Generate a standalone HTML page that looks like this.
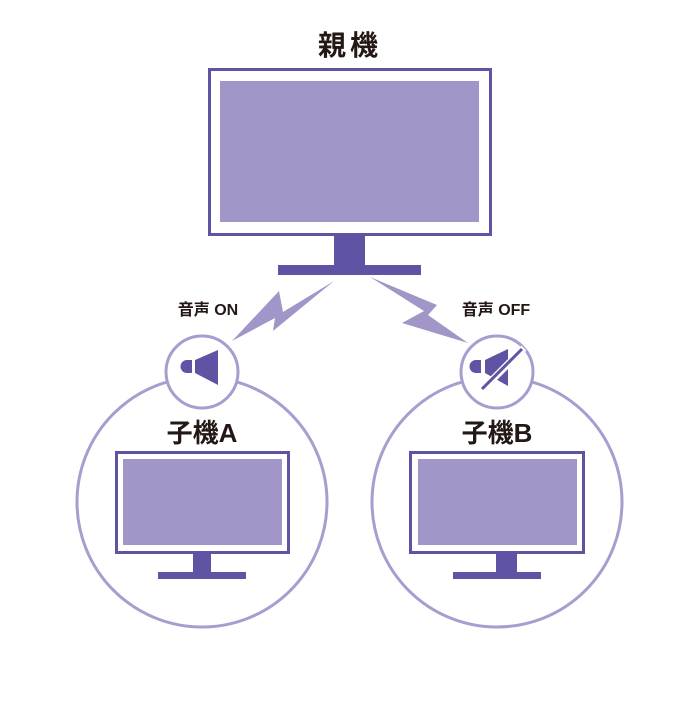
<!DOCTYPE html>
<html><head><meta charset="utf-8"><style>
html,body{margin:0;padding:0;background:#fff;}
svg text{font-family:"Liberation Sans","Noto Sans CJK JP",sans-serif;font-weight:bold;fill:#231815;}
</style></head><body>
<svg width="700" height="700" viewBox="0 0 700 700" xmlns="http://www.w3.org/2000/svg">
<text x="350" y="55" font-size="28" text-anchor="middle" letter-spacing="4">親機</text>
<rect x="209.5" y="69.5" width="281" height="165" fill="#fff" stroke="#5e54a3" stroke-width="3"/>
<rect x="220" y="81" width="259" height="141" fill="#a296c8"/>
<rect x="334" y="235" width="31" height="30" fill="#5e54a3"/>
<rect x="278" y="265" width="143" height="10" fill="#5e54a3"/>
<polygon points="232,341 279,291 283,312 334,281 273,331 275,318" fill="#a296c8"/>
<polygon points="370,277 437,305 428,315 468,343 402,323 424,311" fill="#a296c8"/>
<text x="208" y="315" font-size="16" text-anchor="middle">音声 ON</text>
<text x="496" y="315" font-size="16" text-anchor="middle">音声 OFF</text>
<circle cx="202" cy="502" r="125" fill="#fff" stroke="#a79dcf" stroke-width="3"/>
<circle cx="497" cy="502" r="125" fill="#fff" stroke="#a79dcf" stroke-width="3"/>
<circle cx="202" cy="372" r="36" fill="#fff" stroke="#a79dcf" stroke-width="3"/>
<circle cx="497" cy="372" r="36" fill="#fff" stroke="#a79dcf" stroke-width="3"/>
<path d="M187,360 H192 V373 H187 A6.5,6.5 0 0 1 187,360 Z" fill="#5e54a3"/>
<polygon points="195,360 218,350 218,385 195,373" fill="#5e54a3"/>
<path d="M476,360 H481 V373 H476 A6.5,6.5 0 0 1 476,360 Z" fill="#5e54a3"/>
<polygon points="485,360 508,349 508,386 485,373" fill="#5e54a3"/>
<line x1="481" y1="391" x2="524" y2="348" stroke="#fff" stroke-width="7"/>
<line x1="482" y1="389" x2="522" y2="349" stroke="#5e54a3" stroke-width="3"/>
<text x="202" y="442" font-size="26" text-anchor="middle">子機A</text>
<text x="497" y="442" font-size="26" text-anchor="middle">子機B</text>
<rect x="116.5" y="452.5" width="172" height="100" fill="#fff" stroke="#5e54a3" stroke-width="3"/>
<rect x="123" y="459" width="159" height="86" fill="#a296c8"/>
<rect x="193" y="553" width="18" height="19" fill="#5e54a3"/>
<rect x="158" y="572" width="88" height="7" fill="#5e54a3"/>
<rect x="410.5" y="452.5" width="173" height="100" fill="#fff" stroke="#5e54a3" stroke-width="3"/>
<rect x="418" y="459" width="159" height="86" fill="#a296c8"/>
<rect x="496" y="552" width="21" height="20" fill="#5e54a3"/>
<rect x="453" y="572" width="88" height="7" fill="#5e54a3"/>
</svg>
</body></html>
